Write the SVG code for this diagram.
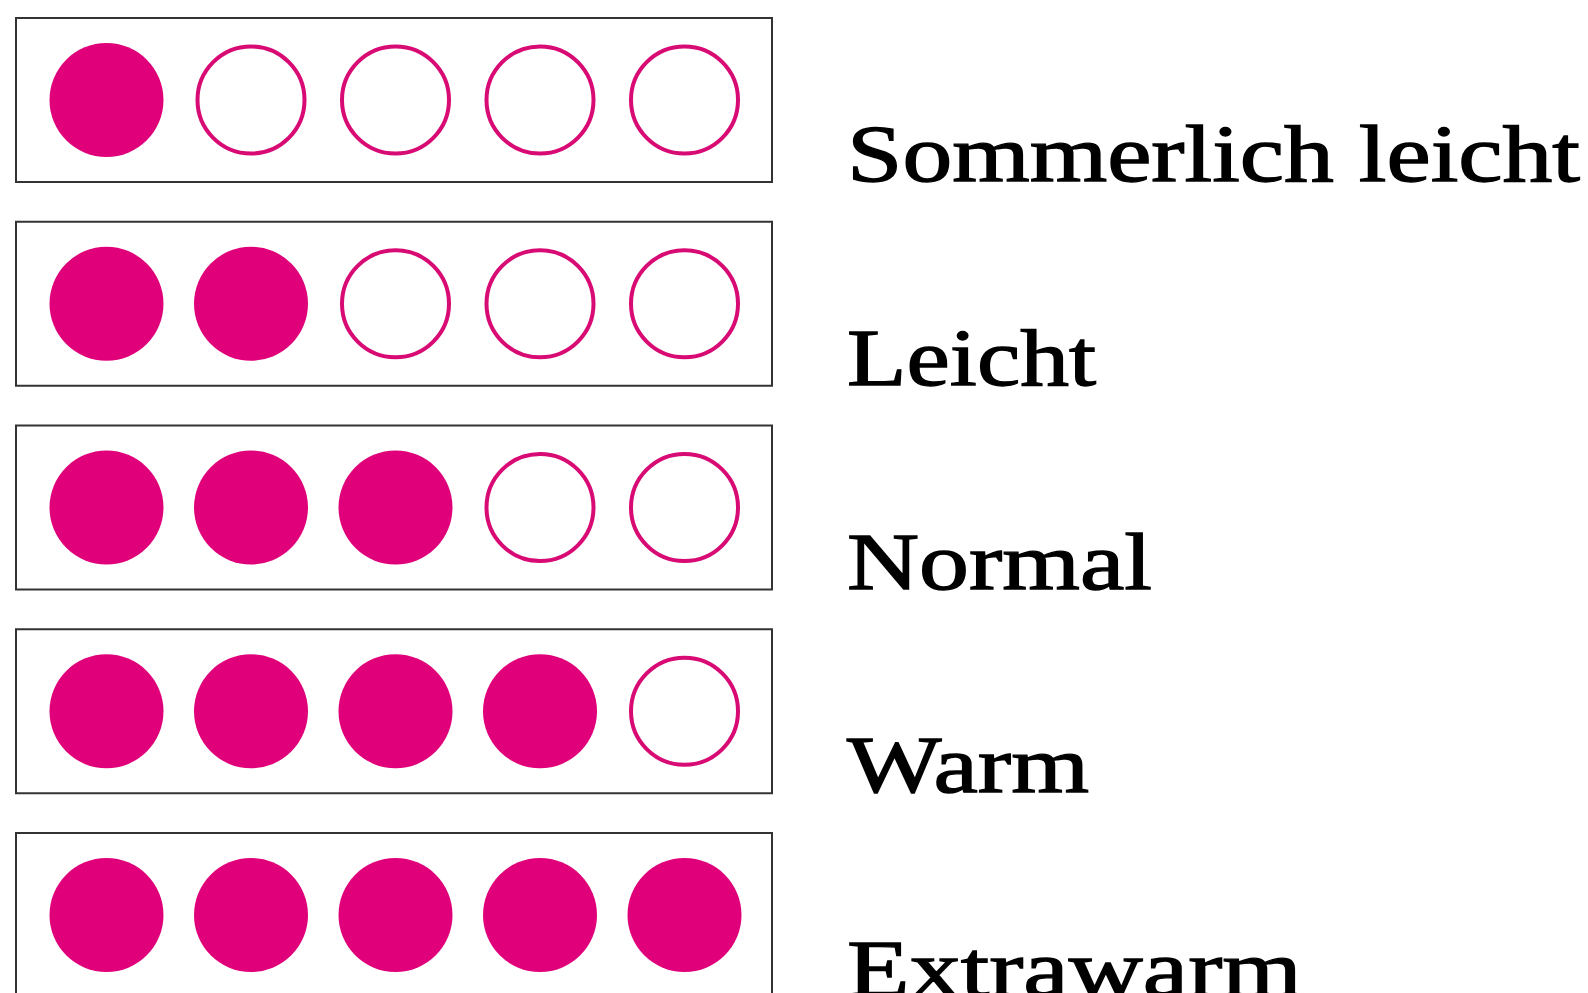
<svg xmlns="http://www.w3.org/2000/svg" width="1588" height="993" viewBox="0 0 1588 993">
<style>
.box{fill:#fff;stroke:#333;stroke-width:2}
.on{fill:#E0017A}
.off{fill:none;stroke:#D80A74;stroke-width:4}
.lbl{font-family:"Liberation Serif","DejaVu Serif",serif;font-size:80px;fill:#000;stroke:#000;stroke-width:1.3}
</style>
<rect width="1588" height="993" fill="#fff"/>
<g id="row1">
<rect class="box" x="16" y="18" width="756" height="164"/>
<circle class="on" cx="106.5" cy="100" r="57"/>
<circle class="off" cx="251" cy="100" r="53.5"/>
<circle class="off" cx="395.5" cy="100" r="53.5"/>
<circle class="off" cx="540" cy="100" r="53.5"/>
<circle class="off" cx="684.5" cy="100" r="53.5"/>
<text class="lbl" x="847" y="181" textLength="733" lengthAdjust="spacingAndGlyphs">Sommerlich leicht</text>
</g>
<g id="row2">
<rect class="box" x="16" y="221.75" width="756" height="164"/>
<circle class="on" cx="106.5" cy="303.75" r="57"/>
<circle class="on" cx="251" cy="303.75" r="57"/>
<circle class="off" cx="395.5" cy="303.75" r="53.5"/>
<circle class="off" cx="540" cy="303.75" r="53.5"/>
<circle class="off" cx="684.5" cy="303.75" r="53.5"/>
<text class="lbl" x="847" y="385" textLength="249" lengthAdjust="spacingAndGlyphs">Leicht</text>
</g>
<g id="row3">
<rect class="box" x="16" y="425.5" width="756" height="164"/>
<circle class="on" cx="106.5" cy="507.5" r="57"/>
<circle class="on" cx="251" cy="507.5" r="57"/>
<circle class="on" cx="395.5" cy="507.5" r="57"/>
<circle class="off" cx="540" cy="507.5" r="53.5"/>
<circle class="off" cx="684.5" cy="507.5" r="53.5"/>
<text class="lbl" x="847" y="588.5" textLength="305" lengthAdjust="spacingAndGlyphs">Normal</text>
</g>
<g id="row4">
<rect class="box" x="16" y="629.25" width="756" height="164"/>
<circle class="on" cx="106.5" cy="711.25" r="57"/>
<circle class="on" cx="251" cy="711.25" r="57"/>
<circle class="on" cx="395.5" cy="711.25" r="57"/>
<circle class="on" cx="540" cy="711.25" r="57"/>
<circle class="off" cx="684.5" cy="711.25" r="53.5"/>
<text class="lbl" x="847" y="792" textLength="242" lengthAdjust="spacingAndGlyphs">Warm</text>
</g>
<g id="row5">
<rect class="box" x="16" y="833" width="756" height="164"/>
<circle class="on" cx="106.5" cy="915" r="57"/>
<circle class="on" cx="251" cy="915" r="57"/>
<circle class="on" cx="395.5" cy="915" r="57"/>
<circle class="on" cx="540" cy="915" r="57"/>
<circle class="on" cx="684.5" cy="915" r="57"/>
<text class="lbl" x="847" y="996" textLength="455" lengthAdjust="spacingAndGlyphs">Extrawarm</text>
</g>
<g id="connectors"/>
</svg>
